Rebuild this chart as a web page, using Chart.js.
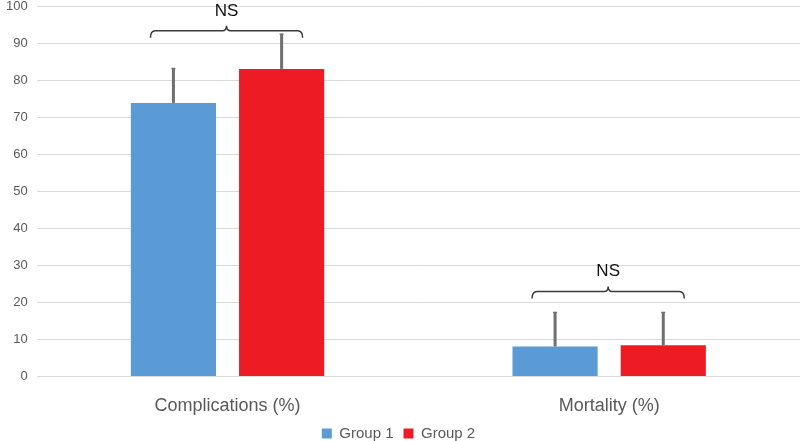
<!DOCTYPE html>
<html>
<head>
<meta charset="utf-8">
<script src="https://cdn.jsdelivr.net/npm/chart.js@4"></script>
<style>
  html, body { margin: 0; padding: 0; background: #fff; overflow: hidden; }
  #wrap { width: 800px; height: 461px; margin-top: -10px; }
</style>
</head>
<body>
<div id="wrap"><canvas id="chart"></canvas></div>
<script>
// data
var categories = ['Complications (%)', 'Mortality (%)'];
var group1 = [74, 8.1];
var group2 = [83.2, 8.4];
var group1Err = [9.3, 9.2];
var group2Err = [9.4, 8.9];
var sigLabels = ['NS', 'NS'];
var sigLevel = [93.5, 23];
var yTicks = [0, 10, 20, 30, 40, 50, 60, 70, 80, 90, 100];

var FONT = "'Liberation Sans', 'DejaVu Sans', sans-serif";

// error bars (upper only) + significance brackets
var extras = {
  id: 'extras',
  afterDatasetsDraw: function(chart) {
    var ctx = chart.ctx;
    var y = chart.scales.y;
    var errs = [group1Err, group2Err];
    var vals = [group1, group2];
    ctx.save();
    ctx.strokeStyle = '#6f6f6f';
    for (var d = 0; d < 2; d++) {
      var meta = chart.getDatasetMeta(d);
      meta.data.forEach(function(bar, i) {
        var top = y.getPixelForValue(vals[d][i] + errs[d][i]);
        ctx.lineWidth = 3;
        ctx.beginPath();
        ctx.moveTo(bar.x, bar.y);
        ctx.lineTo(bar.x, top);
        ctx.stroke();
        ctx.lineWidth = 1.5;
        ctx.beginPath();
        ctx.moveTo(bar.x - 2, top);
        ctx.lineTo(bar.x + 2, top);
        ctx.stroke();
      });
    }
    // brackets
    ctx.strokeStyle = '#3a3a3a';
    ctx.lineWidth = 1.5;
    ctx.fillStyle = '#111';
    ctx.font = '17px ' + FONT;
    ctx.textAlign = 'center';
    ctx.textBaseline = 'middle';
    for (var i = 0; i < categories.length; i++) {
      var b1 = chart.getDatasetMeta(0).data[i];
      var b2 = chart.getDatasetMeta(1).data[i];
      var x1 = b1.x - 23, x2 = b2.x + 21;
      var mid = (x1 + x2) / 2;
      var ly = y.getPixelForValue(sigLevel[i]);
      ctx.beginPath();
      ctx.moveTo(x1, ly + 7);
      ctx.quadraticCurveTo(x1, ly, x1 + 5, ly);
      ctx.lineTo(mid - 4, ly);
      ctx.quadraticCurveTo(mid, ly, mid, ly - 5);
      ctx.quadraticCurveTo(mid, ly, mid + 4, ly);
      ctx.lineTo(x2 - 5, ly);
      ctx.quadraticCurveTo(x2, ly, x2, ly + 7);
      ctx.stroke();
      ctx.fillText(sigLabels[i], mid, ly - 20);
    }
    ctx.restore();
  }
};

var chart = new Chart(document.getElementById('chart').getContext('2d'), {
  type: 'bar',
  data: {
    labels: categories,
    datasets: [{
      label: 'Group 1',
      data: group1,
      backgroundColor: '#5b9bd5',
      categoryPercentage: 0.567,
      barPercentage: 0.787
    }, {
      label: 'Group 2',
      data: group2,
      backgroundColor: '#ed1c24',
      categoryPercentage: 0.567,
      barPercentage: 0.787
    }]
  },
  options: {
    responsive: true,
    maintainAspectRatio: false,
    animation: false,
    layout: { padding: { top: 0, right: 0, left: -3, bottom: 0 } },
    plugins: {
      legend: {
        position: 'bottom',
        labels: {
          boxWidth: 10,
          boxHeight: 10,
          padding: 10,
          color: '#595959',
          font: { family: FONT, size: 15 }
        }
      },
      tooltip: { enabled: false }
    },
    scales: {
      x: {
        grid: { display: false },
        border: { display: false },
        ticks: { color: '#595959', font: { family: FONT, size: 18 }, padding: 11 },
        afterFit: function(axis) { axis.height -= 12; }
      },
      y: {
        min: 0,
        max: 100,
        afterBuildTicks: function(axis) {
          axis.ticks = yTicks.map(function(v) { return { value: v }; });
        },
        grid: { color: '#d9d9d9', lineWidth: 1, drawTicks: false },
        border: { display: false },
        ticks: { color: '#595959', font: { family: FONT, size: 13 }, padding: 9 }
      }
    }
  },
  plugins: [extras]
});
</script>
</body>
</html>
